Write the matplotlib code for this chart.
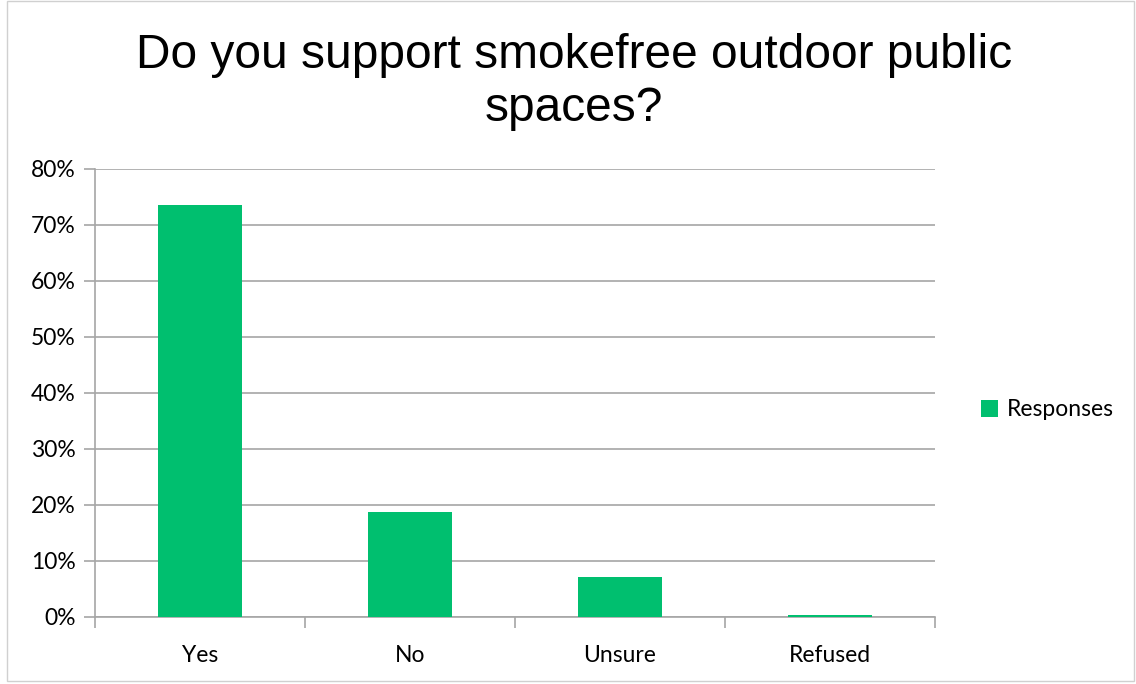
import matplotlib.pyplot as plt
import matplotlib.patches as patches
from matplotlib.ticker import PercentFormatter

categories = ['Yes', 'No', 'Unsure', 'Refused']
responses = [73.6, 18.8, 7.2, 0.4]
yticks = [0, 10, 20, 30, 40, 50, 60, 70, 80]

bar_color = '#00BF6F'
grid_color = '#A6A6A6'
label_font = ['Lato', 'DejaVu Sans']

fig = plt.figure(figsize=(11.36, 6.84), dpi=100)
fig.patches.append(patches.Rectangle((0.006, 0.005), 0.992, 0.993, transform=fig.transFigure,
                                     fill=False, edgecolor='#D0D0D0', linewidth=1))
ax = fig.add_axes([0.0836, 0.098, 0.7394, 0.655])

x = list(range(len(categories)))
ax.bar(x, responses, width=0.4, color=bar_color, label='Responses', zorder=3)

ax.set_xlim(-0.5, len(categories) - 0.5)
ax.set_ylim(0, 80)
ax.set_yticks(yticks)
ax.yaxis.set_major_formatter(PercentFormatter(decimals=0))
ax.grid(axis='y', color=grid_color, linewidth=1.2, zorder=0)

ax.set_xticks(x)
ax.set_xticklabels(categories, fontsize=16.5, family=label_font)
ax.set_xticks([i - 0.5 for i in range(len(categories) + 1)], minor=True)
ax.tick_params(axis='x', which='major', length=0, pad=20)
ax.tick_params(axis='x', which='minor', length=8, color=grid_color, width=1.2)
ax.tick_params(axis='y', length=8, color=grid_color, width=1.2, labelsize=16.5, pad=6)
for lab in ax.get_yticklabels():
    lab.set_family(label_font)

for side in ['top', 'right']:
    ax.spines[side].set_visible(False)
ax.spines['left'].set_color(grid_color)
ax.spines['bottom'].set_color(grid_color)
ax.spines['left'].set_linewidth(1.2)
ax.spines['bottom'].set_linewidth(1.2)

fig.text(0.505, 0.88, 'Do you support smokefree outdoor public\nspaces?', ha='center', va='center',
         fontsize=34.5, family='Liberation Sans', linespacing=1.25)

ax.legend(loc='center left', bbox_to_anchor=(1.03, 0.462), frameon=False,
          prop={'family': label_font, 'size': 16.5}, handlelength=0.75, handleheight=0.75, handletextpad=0.4)

fig.savefig('out.png', dpi=100)
